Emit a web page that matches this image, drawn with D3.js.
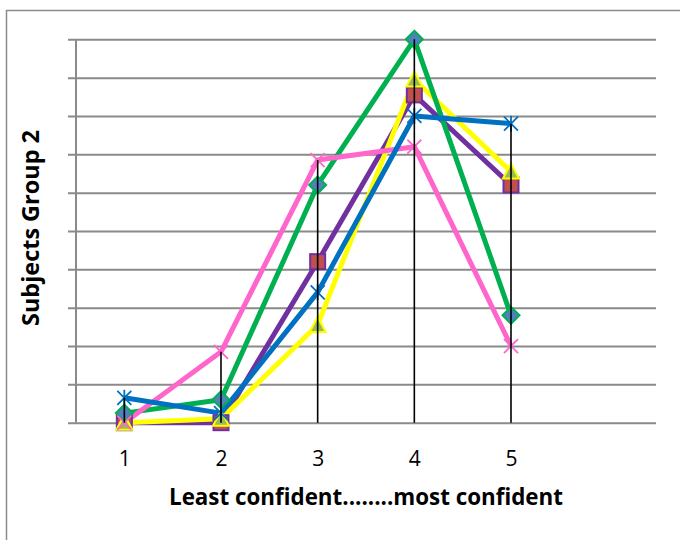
<!DOCTYPE html>
<html><head><meta charset="utf-8">
<script src="https://cdn.jsdelivr.net/npm/d3@7"></script>
<style>body{margin:0;background:#fff}svg{display:block}</style>
</head><body>
<svg id="chart" width="680" height="540"></svg>
<script>
const categories = ["1","2","3","4","5"];
const yTicks = [0,1,2,3,4,5,6,7,8,9,10];
const greenVals  = [0.25, 0.6, 6.2, 10, 2.8];
const purpleVals = [0, 0, 4.2, 8.55, 6.2];
const yellowVals = [0, 0.1, 2.55, 8.95, 6.55];
const pinkVals   = [0, 1.85, 6.85, 7.2, 2.0];
const blueVals   = [0.65, 0.25, 3.4, 8.0, 7.8];
const xTitle = "Least confident........most confident";
const yTitle = "Subjects Group 2";

const series = [
  {vals: purpleVals, line:"#7030A0", marker:"square", fill:"#C0504D", stroke:"#7030A0"},
  {vals: yellowVals, line:"#FFFF00", marker:"triangle", fill:"#9BBB59", stroke:"#FFFF00"},
  {vals: greenVals,  line:"#00B050", marker:"diamond", fill:"#4F81BD", stroke:"#00B050"},
  {vals: pinkVals,   line:"#FF66CC", marker:"x", fill:"none", stroke:"#FF66CC"},
  {vals: blueVals,   line:"#0070C0", marker:"star", fill:"none", stroke:"#0070C0"}
];

const FONT = "'Open Sans', Lato, sans-serif";
const svg = d3.select("#chart");
const L = 76, R = 656, T = 39.3, B = 422.7;
const x = d3.scaleLinear().domain([0.5, 6.5]).range([L, R]);
const y = d3.scaleLinear().domain([0, 10]).range([B, T]);

// outer frame
svg.append("rect").attr("x",6.5).attr("y",10.5).attr("width",720).attr("height",600)
  .attr("fill","none").attr("stroke","#8c8c8c").attr("stroke-width",1.5);

// gridlines + ticks
const yAxis = d3.axisLeft(y).tickValues(yTicks).tickSize(-(R - L)).tickSizeOuter(0).tickFormat("");
const gy = svg.append("g").attr("transform",`translate(${L},0)`).call(yAxis);
gy.select(".domain").remove();
gy.selectAll(".tick line").attr("x1", -8).attr("stroke","#8a8a8a").attr("stroke-width",2);
svg.append("line").attr("x1",L).attr("x2",L).attr("y1",T).attr("y2",B)
  .attr("stroke","#8a8a8a").attr("stroke-width",2);

// x axis labels
const xAxis = d3.axisBottom(x).tickValues(categories.map((c,i)=>i+1)).tickFormat((d,i)=>categories[i]).tickSize(0).tickPadding(0);
const gx = svg.append("g").attr("transform",`translate(0,${B})`).call(xAxis);
gx.attr("font-size", null).attr("font-family", null);
gx.select(".domain").remove();
gx.selectAll("text").style("font-family",FONT).style("font-size","21px")
  .attr("fill","#000").attr("dy",0).attr("y",43);

// lines
const lineGen = d3.line().x((d,i)=>x(i+1)).y(d=>y(d));
series.forEach(s=>{
  svg.append("path").datum(s.vals).attr("d",lineGen).attr("fill","none")
    .attr("stroke",s.line).attr("stroke-width",5).attr("stroke-linejoin","round");
});

// markers
function drawMarker(g, s, cx, cy){
  if (s.marker==="square"){
    g.append("rect").attr("x",cx-7.5).attr("y",cy-7.5).attr("width",15).attr("height",15)
      .attr("fill",s.fill).attr("stroke",s.stroke).attr("stroke-width",2);
  } else if (s.marker==="triangle"){
    g.append("path").attr("d",`M${cx},${cy-8}L${cx+8},${cy+7}L${cx-8},${cy+7}Z`)
      .attr("fill",s.fill).attr("stroke",s.stroke).attr("stroke-width",2);
  } else if (s.marker==="diamond"){
    g.append("path").attr("d",`M${cx},${cy-8.5}L${cx+8.5},${cy}L${cx},${cy+8.5}L${cx-8.5},${cy}Z`)
      .attr("fill",s.fill).attr("stroke",s.stroke).attr("stroke-width",2);
  } else if (s.marker==="x"){
    g.append("path").attr("d",`M${cx-7},${cy-7}L${cx+7},${cy+7}M${cx+7},${cy-7}L${cx-7},${cy+7}`)
      .attr("stroke",s.stroke).attr("stroke-width",1.8);
  } else if (s.marker==="star"){
    g.append("path").attr("d",`M${cx-7},${cy-7}L${cx+7},${cy+7}M${cx+7},${cy-7}L${cx-7},${cy+7}M${cx},${cy-8}L${cx},${cy+8}`)
      .attr("stroke",s.stroke).attr("stroke-width",1.8);
  }
}
series.forEach(s=>{
  const g = svg.append("g");
  s.vals.forEach((v,i)=>drawMarker(g, s, x(i+1), y(v)));
});

// drop lines (max to axis)
categories.forEach((c,i)=>{
  const mx = d3.max(series, s=>s.vals[i]);
  svg.append("line").attr("x1",x(i+1)).attr("x2",x(i+1)).attr("y1",y(mx)).attr("y2",y(0))
    .attr("stroke","#000").attr("stroke-width",1.6);
});

// titles, sized to the reference widths
function fit(sel, target){
  let fs = 20; sel.attr("font-size", fs);
  const w = sel.node().getComputedTextLength();
  if (w > 0) sel.attr("font-size", fs * target / w);
}
const xt = svg.append("text").attr("x",366).attr("y",505).attr("text-anchor","middle")
  .attr("font-family",FONT).attr("font-weight","bold").text(xTitle);
fit(xt, 394);
const yt = svg.append("text").attr("transform","translate(39,228) rotate(-90)").attr("text-anchor","middle")
  .attr("font-family",FONT).attr("font-weight","bold").text(yTitle);
fit(yt, 196);
</script>
</body></html>
